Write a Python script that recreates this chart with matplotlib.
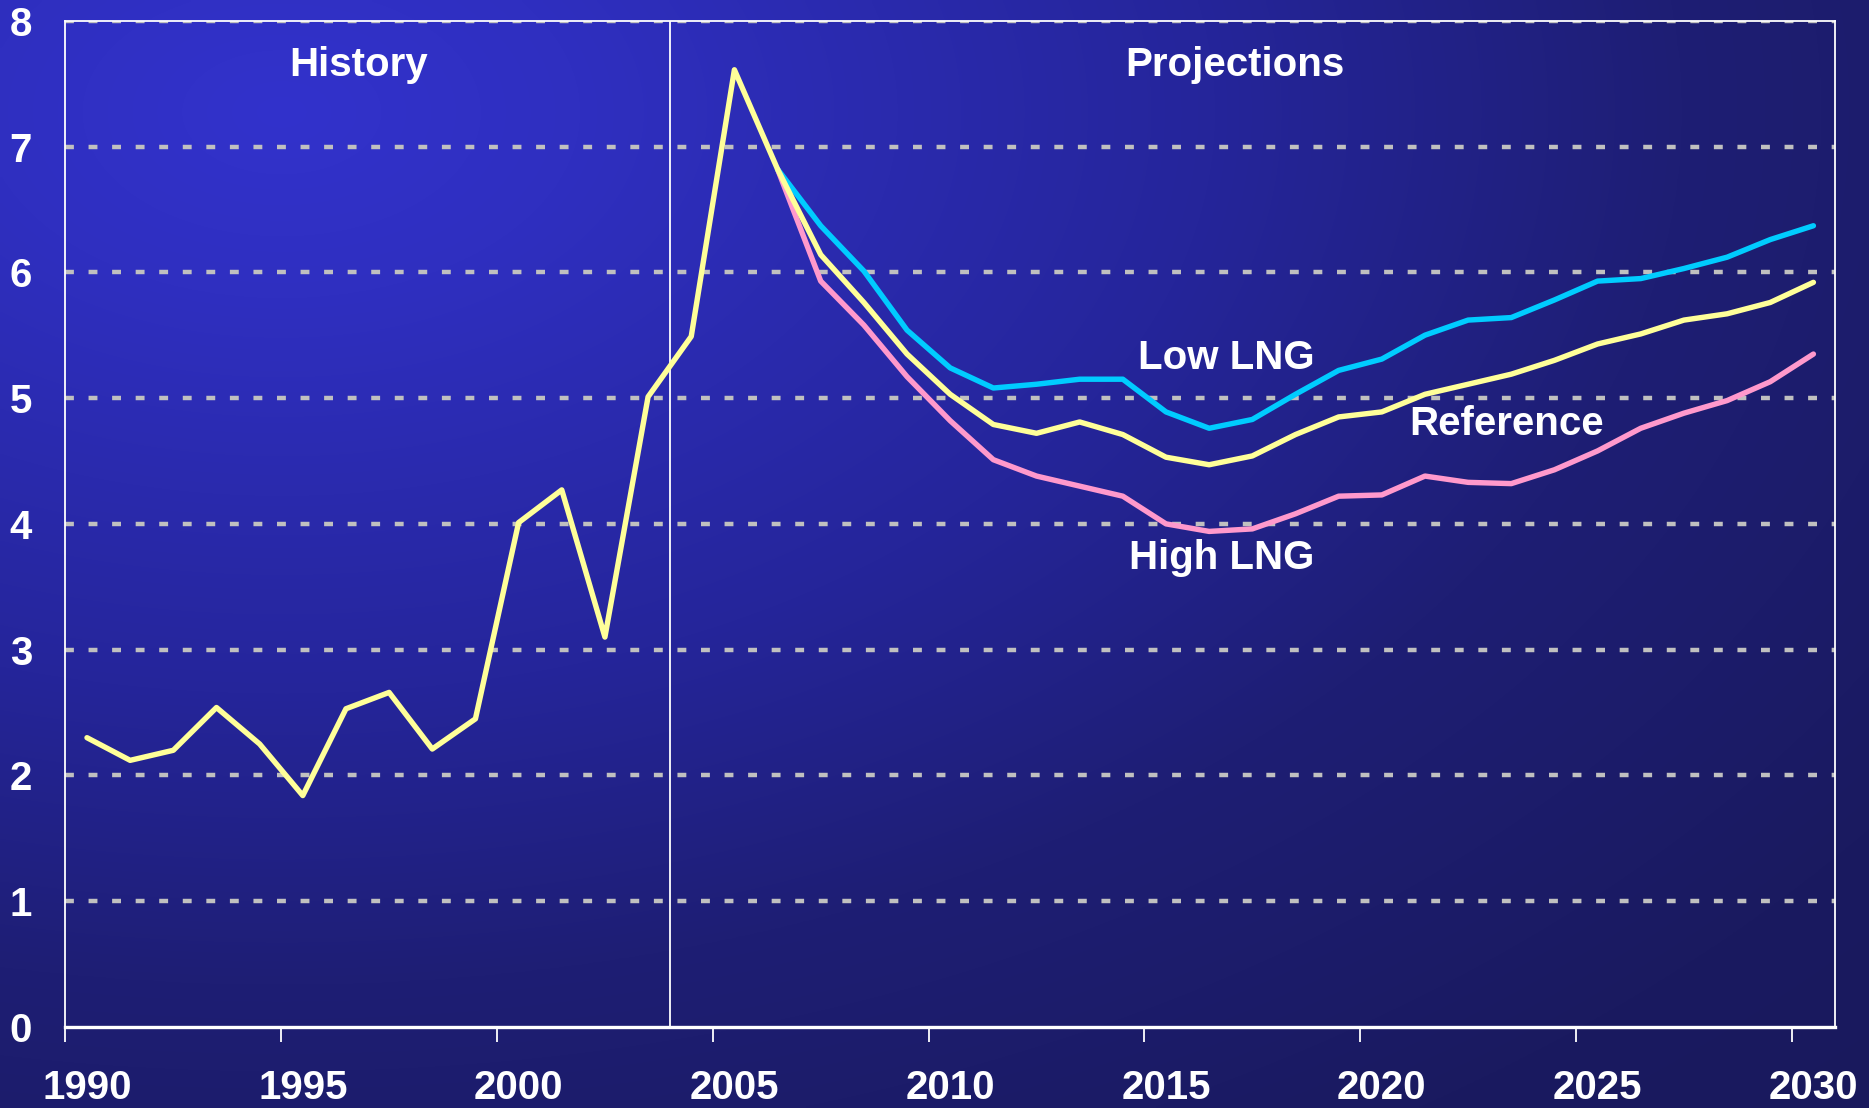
import numpy as np
import matplotlib
matplotlib.use("Agg")
import matplotlib.pyplot as plt

# ---- data ----
years = list(range(1990, 2031))
reference = [2.30, 2.12, 2.20, 2.54, 2.25, 1.84, 2.53, 2.66, 2.21, 2.45,
             4.01, 4.27, 3.10, 5.01, 5.49, 7.61, 6.82, 6.14, 5.76, 5.35,
             5.03, 4.79, 4.72, 4.81, 4.71, 4.53, 4.47, 4.54, 4.71, 4.85,
             4.89, 5.03, 5.11, 5.19, 5.30, 5.43, 5.51, 5.62, 5.67, 5.76, 5.92]
proj_years = list(range(2006, 2031))
low_lng = [6.82, 6.37, 6.01, 5.54, 5.24, 5.08, 5.11, 5.15, 5.15, 4.89,
           4.76, 4.83, 5.03, 5.22, 5.31, 5.50, 5.62, 5.64, 5.78, 5.93,
           5.95, 6.03, 6.12, 6.26, 6.37]
high_lng = [6.82, 5.93, 5.58, 5.17, 4.82, 4.51, 4.38, 4.30, 4.22, 4.00,
            3.94, 3.96, 4.08, 4.22, 4.23, 4.38, 4.33, 4.32, 4.43, 4.58,
            4.76, 4.88, 4.98, 5.13, 5.35]
tick_years = [1990, 1995, 2000, 2005, 2010, 2015, 2020, 2025, 2030]
y_ticks = [0, 1, 2, 3, 4, 5, 6, 7, 8]
divider_year = 2003.5

plt.rcParams['font.family'] = ['Liberation Sans', 'DejaVu Sans']

fig = plt.figure(figsize=(18.69, 11.08), dpi=100)

# ---- background gradient ----
bg = fig.add_axes([0, 0, 1, 1], zorder=-10)
H, W = 300, 500
yy, xx = np.mgrid[0:H, 0:W]
xn = xx / (W - 1)
yn = yy / (H - 1)
d = np.sqrt(((xn - 0.15)) ** 2 + ((yn - 0.1) * 0.95) ** 2)
dk = [0.0, 0.16, 0.5, 0.75, 1.05, 1.5]
rk = [50, 47, 37, 30, 26, 24]
gk = [50, 47, 37, 30, 26, 24]
bk = [204, 192, 154, 116, 96, 88]
img = np.dstack([np.interp(d, dk, rk), np.interp(d, dk, gk), np.interp(d, dk, bk)]) / 255.0
bg.imshow(img, aspect='auto', extent=[0, 1, 0, 1], origin='upper', interpolation='bilinear')
bg.set_axis_off()

# ---- main axes ----
ax = fig.add_axes([0.035, 0.0731, 0.9468, 0.9082])
ax.set_facecolor('none')
ax.set_xlim(1989.5, 2030.5)
ax.set_ylim(0, 8)

# grid
for v in y_ticks[1:]:
    ax.axhline(v, color='#C0C0C0', lw=3.2, ls=(0, (2.0, 3.3)), zorder=1)

for s in ax.spines.values():
    s.set_color('white')
    s.set_linewidth(1.3)
ax.spines['bottom'].set_linewidth(2.4)

ax.axvline(divider_year, color='white', lw=1.3, zorder=2)

# lines
ax.plot(proj_years, high_lng, color='#FF99CC', lw=3.9, zorder=3, solid_capstyle='round')
ax.plot(proj_years, low_lng, color='#00CCFF', lw=3.9, zorder=3, solid_capstyle='round')
ax.plot(years, reference, color='#FFFF99', lw=3.9, zorder=4, solid_capstyle='round')

# ticks
ax.set_xticks([t - 0.5 for t in tick_years])
ax.set_xticklabels([])
ax.set_xticks(tick_years, minor=True)
ax.set_xticklabels([str(t) for t in tick_years], minor=True)
ax.tick_params(axis='x', which='major', direction='out', length=11, width=1.3, color='white')
ax.tick_params(axis='x', which='minor', length=0, pad=30, labelsize=29, labelcolor='white')
ax.set_yticks(y_ticks)
ax.set_yticklabels([str(v) for v in y_ticks])
ax.tick_params(axis='y', length=0, pad=24, labelsize=29, labelcolor='white')
for lab in ax.get_xticklabels(minor=True) + ax.get_yticklabels():
    lab.set_fontweight('bold')

# annotations
tkw = dict(color='white', fontsize=29, fontweight='bold', ha='center', va='center', zorder=5)
ax.text(1996.3, 7.65, 'History', **tkw)
ax.text(2016.6, 7.65, 'Projections', **tkw)
ax.text(2016.4, 5.32, 'Low LNG', **tkw)
ax.text(2022.9, 4.79, 'Reference', **tkw)
ax.text(2016.3, 3.73, 'High LNG', **tkw)

fig.savefig('out.png', dpi=100)
